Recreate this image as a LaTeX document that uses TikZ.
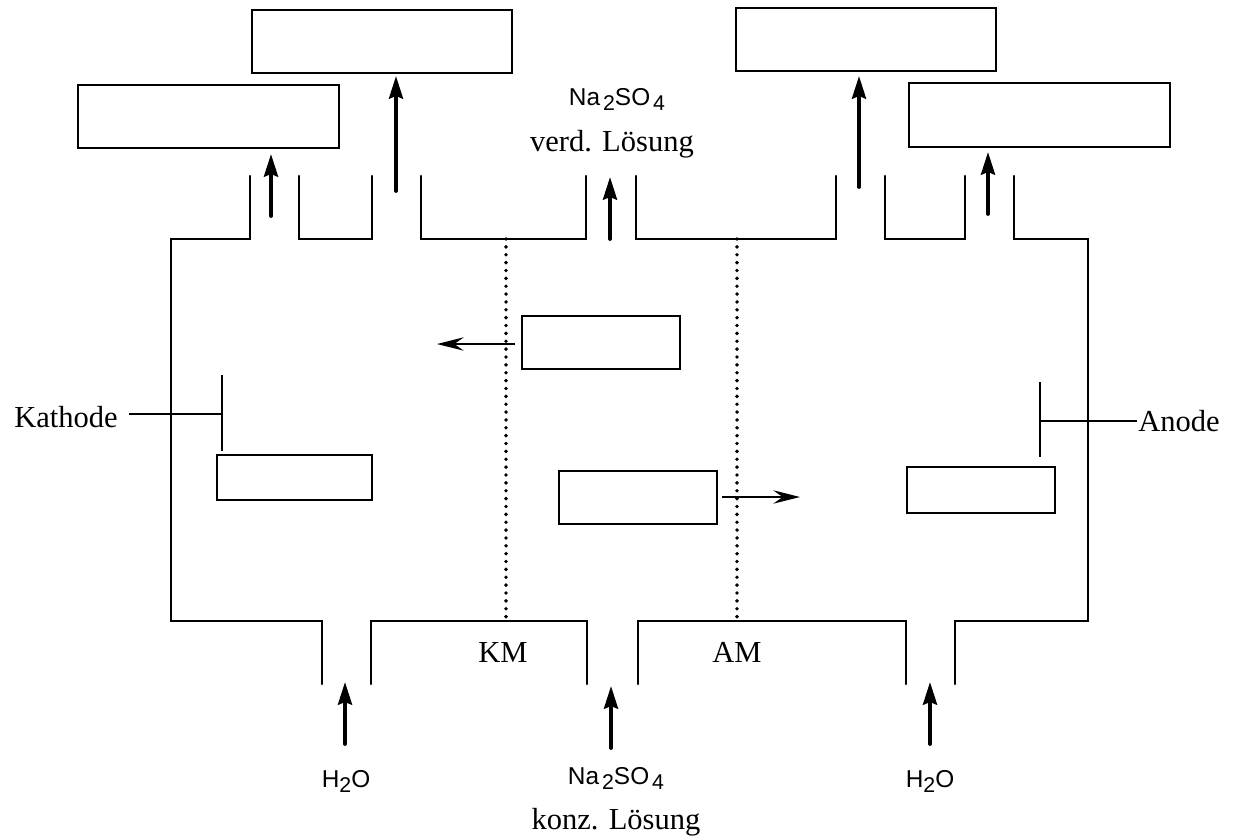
\documentclass[tikz,border=0pt]{standalone}
\usepackage{fontspec}
\setmainfont{Liberation Serif}
\newfontfamily\arialfont{Liberation Sans}
\usetikzlibrary{arrows.meta}
\tikzset{
  x=0.75pt,y=-0.75pt,
  wall/.style={line width=1.8pt,line cap=round,line join=miter},
  blank/.style={draw,line width=1.8pt,inner sep=0pt,outer sep=0pt,anchor=north west},
  flow/.style={line width=2.8pt,line cap=round,-{Stealth[length=17pt,width=10.5pt,inset=2pt]}},
  ionflow/.style={line width=1.7pt,-{Stealth[length=20pt,width=10pt,inset=7pt]}},
  lead/.style={line width=1.7pt},
  membrane/.style={line width=2.9pt,line cap=round,dash pattern=on 0pt off 5.9pt},
  serif/.style={font=\fontsize{22.9}{26}\selectfont,inner sep=0pt},
  sans/.style={font=\arialfont\fontsize{18.3}{21}\selectfont,inner sep=0pt,anchor=base},
}
\newcommand{\lowsub}[1]{\raisebox{-4pt}{\fontsize{16}{18}\selectfont #1}}
\newcommand{\sodium}{Na\kern2.2pt\lowsub{2}SO\kern2.2pt\lowsub{4}}
\begin{document}
\begin{tikzpicture}
\useasboundingbox (0,0) rectangle (1234,839);
% vessel outline
\draw[wall] (250,176) -- (250,239) -- (171,239) -- (171,621) -- (322,621) -- (322,684);
\draw[wall] (299,176) -- (299,239) -- (372,239) -- (372,176);
\draw[wall] (421,176) -- (421,239) -- (586,239) -- (586,176);
\draw[wall] (636,176) -- (636,239) -- (836,239) -- (836,176);
\draw[wall] (885,176) -- (885,239) -- (965,239) -- (965,176);
\draw[wall] (1014,176) -- (1014,239) -- (1088,239) -- (1088,621) -- (955,621) -- (955,684);
\draw[wall] (906,684) -- (906,621) -- (638,621) -- (638,684);
\draw[wall] (587,684) -- (587,621) -- (371,621) -- (371,684);
% membranes
\coordinate (kmtop) at (506,239); \coordinate (kmbot) at (506,621);
\coordinate (amtop) at (737,239); \coordinate (ambot) at (737,621);
\draw[membrane] (kmtop) -- (kmbot);
\draw[membrane] (amtop) -- (ambot);
% blank boxes
\node[blank,minimum width=195pt,minimum height=47.25pt] (b1) at (252,10) {};
\node[blank,minimum width=195.75pt,minimum height=47.25pt] (b2) at (78,85) {};
\node[blank,minimum width=195pt,minimum height=47.25pt] (b3) at (736,8) {};
\node[blank,minimum width=195.75pt,minimum height=48pt] (b4) at (909,83) {};
\node[blank,minimum width=118.5pt,minimum height=39.75pt] (b5) at (522,316) {};
\node[blank,minimum width=116.25pt,minimum height=33.75pt] (b6) at (217,455) {};
\node[blank,minimum width=118.5pt,minimum height=39.75pt] (b7) at (559,471) {};
\node[blank,minimum width=111pt,minimum height=34.5pt] (b8) at (907,467) {};
% flow arrows
\coordinate (a1s) at (396,191); \coordinate (a1e) at (396,76);
\coordinate (a2s) at (271,216); \coordinate (a2e) at (271,154);
\coordinate (a3s) at (610,239); \coordinate (a3e) at (610,177);
\coordinate (a4s) at (859,187); \coordinate (a4e) at (859,76);
\coordinate (a5s) at (988,214); \coordinate (a5e) at (988,152);
\coordinate (a6s) at (345,744); \coordinate (a6e) at (345,682);
\coordinate (a7s) at (611,748); \coordinate (a7e) at (611,686);
\coordinate (a8s) at (930,744); \coordinate (a8e) at (930,682);
\draw[flow] (a1s) -- (a1e);
\draw[flow] (a2s) -- (a2e);
\draw[flow] (a3s) -- (a3e);
\draw[flow] (a4s) -- (a4e);
\draw[flow] (a5s) -- (a5e);
\draw[flow] (a6s) -- (a6e);
\draw[flow] (a7s) -- (a7e);
\draw[flow] (a8s) -- (a8e);
% ion arrows
\coordinate (i1s) at (515,344); \coordinate (i1e) at (437,344);
\coordinate (i2s) at (722,497); \coordinate (i2e) at (800,497);
\draw[ionflow] (i1s) -- (i1e);
\draw[ionflow] (i2s) -- (i2e);
% electrodes
\coordinate (kt) at (222,375); \coordinate (kb) at (222,451); \coordinate (kj) at (222,414);
\coordinate (kw) at (129,414);
\coordinate (at) at (1040,382); \coordinate (ab) at (1040,457); \coordinate (aj) at (1040,421);
\coordinate (ae) at (1137,421);
\draw[lead] (kt) -- (kb);
\draw[lead] (at) -- (ab);
\node[serif,anchor=east] (kathode) at (118,417) {Kathode};
\node[serif,anchor=west] (anode) at (1138,421) {Anode};
\draw[lead] (kw) -- (kj);
\draw[lead] (aj) -- (ae);
% labels
\node[serif] (km) at (503,652) {KM};
\node[serif] (am) at (737,652) {AM};
\node[sans] (naT) at (617,105) {\sodium};
\node[serif] (verd) at (612,144) {verd. Lösung};
\node[sans] (h2l) at (346,787) {H\lowsub{2}O};
\node[sans] (naB) at (616,784) {\sodium};
\node[sans] (h2r) at (930,787) {H\lowsub{2}O};
\node[serif] (konz) at (616,822) {konz. Lösung};
\end{tikzpicture}
\end{document}
